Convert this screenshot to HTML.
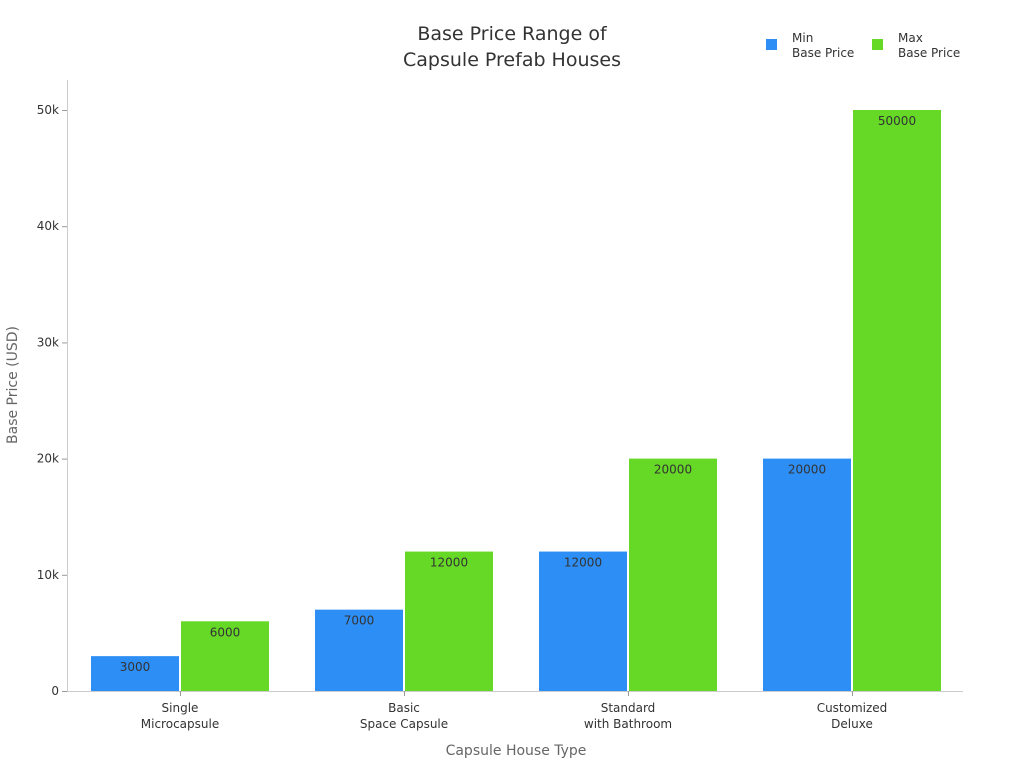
<!DOCTYPE html>
<html><head><meta charset="utf-8"><style>
body{margin:0;background:#fff;}
svg{font-family:"DejaVu Sans","Liberation Sans",sans-serif;}
</style></head><body>
<svg id="chart" width="1024" height="768">
<text x="512" y="40" text-anchor="middle" font-size="19" fill="#333">Base Price Range of</text>
<text x="512" y="66" text-anchor="middle" font-size="19" fill="#333">Capsule Prefab Houses</text>
<g><rect x="766" y="39" width="11" height="11" fill="#2d8ff5"/><text x="792" y="42" font-size="12" fill="#333">Min</text><text x="792" y="57" font-size="12" fill="#333">Base Price</text></g>
<g><rect x="872" y="39" width="11" height="11" fill="#66d927"/><text x="898" y="42" font-size="12" fill="#333">Max</text><text x="898" y="57" font-size="12" fill="#333">Base Price</text></g>
<line x1="67.5" y1="80" x2="67.5" y2="691" stroke="#ccc"/>
<line x1="67" y1="691.5" x2="963" y2="691.5" stroke="#ccc"/>
<g id="yticks"></g><g id="bars"></g><g id="xticks"></g>
<text transform="translate(17,385) rotate(-90)" text-anchor="middle" font-size="14" fill="#666">Base Price (USD)</text>
<text x="516" y="755" text-anchor="middle" font-size="14" fill="#666">Capsule House Type</text>
</svg>
<script>
const categories=[["Single","Microcapsule"],["Basic","Space Capsule"],["Standard","with Bathroom"],["Customized","Deluxe"]];
const minValues=[3000,7000,12000,20000];
const maxValues=[6000,12000,20000,50000];
const tickValues=[0,10000,20000,30000,40000,50000];
const tickLabels=["0","10k","20k","30k","40k","50k"];
const NS="http://www.w3.org/2000/svg";
const y=v=>691-v*581/50000;
const xc=i=>180+i*224;
function mk(t,a,p){const e=document.createElementNS(NS,t);for(const k in a)e.setAttribute(k,a[k]);p.appendChild(e);return e;}
const yt=document.getElementById('yticks'),bars=document.getElementById('bars'),xt=document.getElementById('xticks');
tickValues.forEach((v,i)=>{
 const l=mk('line',{x1:62,x2:67,y1:y(v)+0.5,y2:y(v)+0.5,stroke:'#999'},yt);
 
 
 const t=mk('text',{x:59,y:y(v)+4,'text-anchor':'end','font-size':12,fill:'#333'},yt);t.textContent=tickLabels[i];
 
 
});
categories.forEach((c,i)=>{
 [[minValues[i],'#2d8ff5',-89,'min'],[maxValues[i],'#66d927',1,'max']].forEach(([v,col,off,n])=>{
  const r=mk('rect',{x:xc(i)+off,y:y(v),width:88,height:691-y(v),fill:col},bars);
  
  
  const t=mk('text',{x:xc(i)+off+44,y:y(v)+15,'text-anchor':'middle','font-size':12,fill:'#333'},bars);t.textContent=v;
  
  
 });
 const tk=mk('line',{x1:xc(i)+0.5,x2:xc(i)+0.5,y1:691,y2:696,stroke:'#999'},xt);
 
 
 c.forEach((s,j)=>{const t=mk('text',{x:xc(i),y:712+j*16,'text-anchor':'middle','font-size':12,fill:'#333'},xt);t.textContent=s;
 
 });
});
</script>
</body></html>
